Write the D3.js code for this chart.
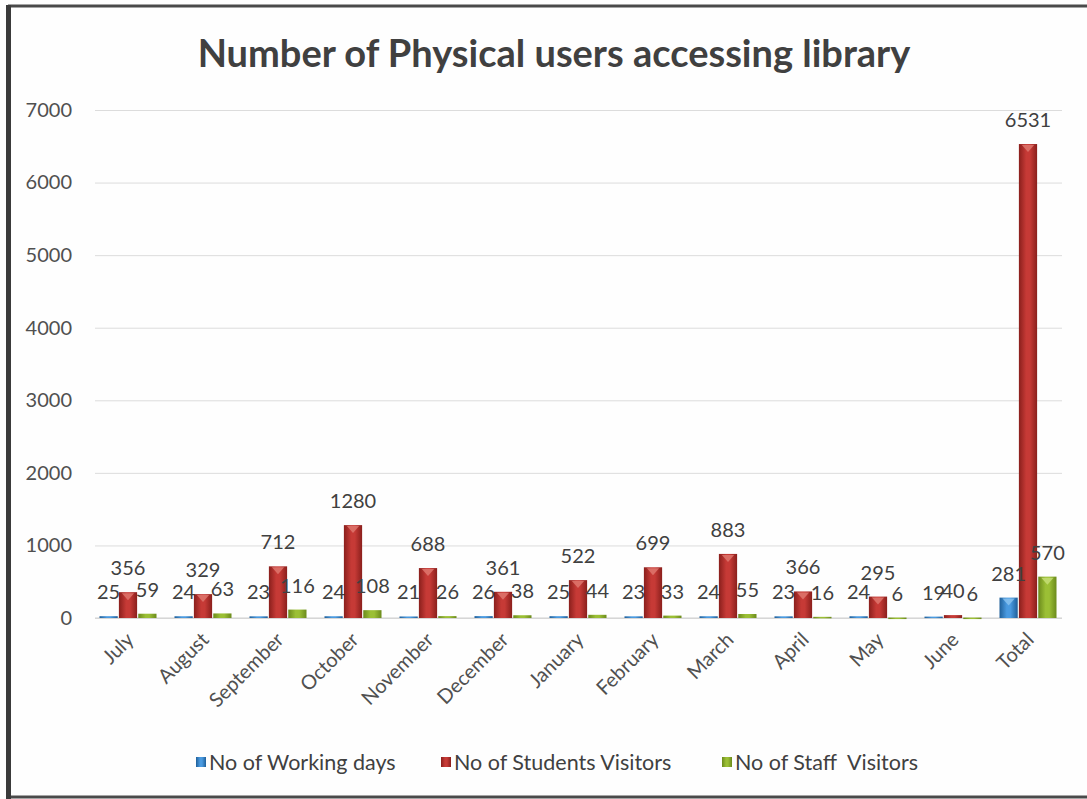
<!DOCTYPE html>
<html>
<head>
<meta charset="utf-8">
<script src="https://cdn.jsdelivr.net/npm/d3@7"></script>
<style>
  body { margin: 0; background: #fff; }
  text { font-family: Lato, "Open Sans", sans-serif; white-space: pre; }
</style>
</head>
<body>
<script>
let w = 1087;
let h = 799;

let months = ['July', 'August', 'September', 'October', 'November', 'December',
  'January', 'February', 'March', 'April', 'May', 'June', 'Total'];
let seriesNames = ['No of Working days', 'No of Students Visitors', 'No of Staff  Visitors'];
let workingDays = [25, 24, 23, 24, 21, 26, 25, 23, 24, 23, 24, 19, 281];
let studentVisitors = [356, 329, 712, 1280, 688, 361, 522, 699, 883, 366, 295, 40, 6531];
let staffVisitors = [59, 63, 116, 108, 26, 38, 44, 33, 55, 16, 6, 6, 570];
let yTicks = [0, 1000, 2000, 3000, 4000, 5000, 6000, 7000];

let allSeries = [workingDays, studentVisitors, staffVisitors];
let colors = [
  { dark: '#1f5f99', mid: '#4a9ae0', light: '#8cc4f0' },
  { dark: '#8a1f1c', mid: '#c63a36', light: '#e07a72' },
  { dark: '#6b8a1c', mid: '#9bbf35', light: '#c8e07a' }
];

let svg = d3.select('body')
  .append('svg')
  .attr('width', w)
  .attr('height', h);

svg.append('rect')
  .attr('width', w)
  .attr('height', h)
  .attr('fill', '#fefefe');

// frame
svg.append('line').attr('x1', 8).attr('x2', 1087).attr('y1', 6).attr('y2', 6)
  .attr('stroke', '#4a4a4a').attr('stroke-width', 3);
svg.append('line').attr('x1', 8).attr('x2', 1087).attr('y1', 797).attr('y2', 797)
  .attr('stroke', '#4a4a4a').attr('stroke-width', 3);
svg.append('line').attr('x1', 8.5).attr('x2', 8.5).attr('y1', 5).attr('y2', 799)
  .attr('stroke', '#3a3a3a').attr('stroke-width', 5);

let defs = svg.append('defs');
colors.forEach((c, i) => {
  let g = defs.append('linearGradient')
    .attr('id', 'grad' + i)
    .attr('x1', '0%').attr('x2', '100%').attr('y1', '0%').attr('y2', '0%');
  g.append('stop').attr('offset', '0%').attr('stop-color', c.dark);
  g.append('stop').attr('offset', '40%').attr('stop-color', c.mid);
  g.append('stop').attr('offset', '60%').attr('stop-color', c.mid);
  g.append('stop').attr('offset', '100%').attr('stop-color', c.dark);
});

let xScale = d3.scaleBand()
  .domain(months)
  .range([92, 1064])
  .paddingInner(0.24)
  .paddingOuter(0.1);

let xInner = d3.scaleBand()
  .domain(d3.range(seriesNames.length))
  .range([0, xScale.bandwidth()])
  .paddingInner(0.06);

let yScale = d3.scaleLinear()
  .domain([0, 7000])
  .range([618, 110]);

// title
svg.append('text')
  .attr('x', 554)
  .attr('y', 67)
  .attr('text-anchor', 'middle')
  .attr('font-size', 38)
  .attr('font-weight', 'bold')
  .attr('fill', '#404040')
  .text('Number of Physical users accessing library');

// grid + y axis
let yAxis = d3.axisLeft(yScale)
  .tickValues(yTicks)
  .tickFormat(d3.format('d'))
  .tickSize(-(1062 - 95))
  .tickPadding(23);

let yG = svg.append('g')
  .attr('transform', 'translate(95, 0)')
  .call(yAxis);
yG.select('.domain').remove();
yG.selectAll('.tick line').attr('stroke', '#dcdcdc');
yG.selectAll('.tick text')
  .attr('font-size', 20)
  .attr('fill', '#505050');

// x axis
let xAxis = d3.axisBottom(xScale).tickSize(0).tickPadding(0);
let xG = svg.append('g')
  .attr('transform', 'translate(0, 618)')
  .call(xAxis);
xG.select('.domain').attr('stroke', '#d0d0d0').attr('d', 'M95,0H1062');
xG.selectAll('.tick text')
  .attr('font-size', 20)
  .attr('fill', '#505050')
  .attr('text-anchor', 'end')
  .attr('dy', null)
  .attr('y', 0)
  .attr('transform', 'translate(7, 23) rotate(-45)');

// bars
let groups = svg.append('g')
  .selectAll('g')
  .data(months)
  .enter()
  .append('g')
  .attr('transform', (d) => { return 'translate(' + xScale(d) + ', 0)'; });

groups.selectAll('rect')
  .data((d, i) => { return allSeries.map((s, k) => { return { k: k, v: s[i] }; }); })
  .enter()
  .append('rect')
  .attr('x', (d) => { return xInner(d.k); })
  .attr('y', (d) => { return yScale(d.v); })
  .attr('width', xInner.bandwidth())
  .attr('height', (d) => { return Math.max(1.5, yScale(0) - yScale(d.v)); })
  .attr('fill', (d) => { return 'url(#grad' + d.k + ')'; });

// little top caps
groups.selectAll('path.cap')
  .data((d, i) => { return allSeries.map((s, k) => { return { k: k, v: s[i] }; }); })
  .enter()
  .filter((d) => { return yScale(0) - yScale(d.v) > 10; })
  .append('path')
  .attr('class', 'cap')
  .attr('d', (d) => {
    let x0 = xInner(d.k) + 3;
    let x1 = xInner(d.k) + xInner.bandwidth() - 3;
    let y0 = yScale(d.v) + 1;
    return 'M' + x0 + ',' + y0 + 'L' + x1 + ',' + y0 + 'L' + ((x0 + x1) / 2) + ',' + (y0 + 7) + 'Z';
  })
  .attr('fill', (d) => { return colors[d.k].light; })
  .attr('opacity', 0.8);

// value labels
groups.selectAll('text.val')
  .data((d, i) => { return allSeries.map((s, k) => { return { k: k, v: s[i] }; }); })
  .enter()
  .append('text')
  .attr('class', 'val')
  .attr('x', (d) => { return xInner(d.k) + xInner.bandwidth() / 2; })
  .attr('y', (d) => { return yScale(d.v) - 17; })
  .attr('text-anchor', 'middle')
  .attr('font-size', 20)
  .attr('fill', '#404040')
  .text((d) => { return d.v; });

// legend
let legendX = [196, 441, 722];
let legend = svg.append('g')
  .selectAll('g')
  .data(seriesNames)
  .enter()
  .append('g')
  .attr('transform', (d, i) => { return 'translate(' + legendX[i] + ', 757)'; });

legend.append('rect')
  .attr('width', 10)
  .attr('height', 10)
  .attr('fill', (d, i) => { return 'url(#grad' + i + ')'; });

legend.append('text')
  .attr('x', 13)
  .attr('y', 13)
  .attr('font-size', 21.5)
  .attr('fill', '#404040')
  .text((d) => { return d; });
</script>
</body>
</html>
